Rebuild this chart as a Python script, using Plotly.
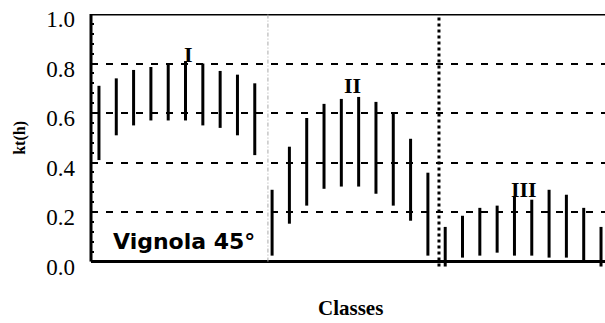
import plotly.graph_objects as go

# ---- data ----
classes = list(range(1, 31))
kt_low = [0.41, 0.51, 0.55, 0.57, 0.57, 0.57, 0.55, 0.54, 0.51, 0.43,
          0.024, 0.153, 0.226, 0.294, 0.303, 0.303, 0.274, 0.226, 0.165, 0.024,
          -0.02, 0.016, 0.024, 0.036, 0.024, 0.024, 0.016, 0.016, 0.0, -0.02]
kt_high = [0.71, 0.74, 0.774, 0.786, 0.80, 0.81, 0.80, 0.77, 0.755, 0.72,
           0.29, 0.464, 0.58, 0.637, 0.657, 0.665, 0.645, 0.60, 0.496, 0.359,
           0.14, 0.185, 0.217, 0.226, 0.262, 0.25, 0.29, 0.27, 0.217, 0.14]
group_labels = ["I", "II", "III"]
group_label_x = [6.2, 15.67, 25.55]
group_label_y = [0.835, 0.71, 0.29]
separators = [10.76, 20.64]
y_ticks = [0.0, 0.2, 0.4, 0.6, 0.8, 1.0]
y_ticktext = ["0.0", "0.2", "0.4", "0.6", "0.8", "1.0"]

# ---- build range segments ----
xs, ys = [], []
for c, lo, hi in zip(classes, kt_low, kt_high):
    xs += [c, c, None]
    ys += [lo, hi, None]

fig = go.Figure()
fig.add_trace(go.Scatter(x=xs, y=ys, mode="lines",
                         line=dict(color="black", width=3),
                         hoverinfo="skip", showlegend=False))

serif = "Liberation Serif, Times New Roman, serif"

fig.update_layout(
    width=605, height=323,
    margin=dict(l=91, r=0, t=14, b=54, autoexpand=False),
    paper_bgcolor="white", plot_bgcolor="white",
    showlegend=False,
    xaxis=dict(range=[0.54, 30.23], showgrid=False, zeroline=False,
               showline=False, showticklabels=False, ticks=""),
    yaxis=dict(range=[-0.03, 1.0], tickvals=y_ticks, ticktext=y_ticktext,
               showgrid=True, gridcolor="black", gridwidth=1.5,
               griddash="7px,8px", zeroline=False, showline=False,
               ticks="inside", ticklen=3, tickwidth=2, tickcolor="black",
               minor=dict(dtick=0.04, tick0=0, ticks="inside", ticklen=3,
                          tickwidth=2, tickcolor="black", showgrid=False),
               tickfont=dict(family=serif, size=23, color="black"),
               ticklabelstandoff=15, ticklabelshift=5,
               ticklabeloverflow="allow"),
)

# axis frame lines
fig.add_shape(type="line", xref="paper", yref="y", x0=0, x1=0, y0=0, y1=1.0,
              line=dict(color="black", width=3), layer="above")
fig.add_shape(type="line", xref="paper", yref="y", x0=0, x1=1, y0=0, y1=0,
              line=dict(color="black", width=3), layer="above")
fig.add_shape(type="line", xref="paper", yref="y", x0=0, x1=1, y0=1.0, y1=1.0,
              line=dict(color="black", width=3), layer="above")

# group separators
fig.add_shape(type="line", xref="x", yref="y", x0=separators[0], x1=separators[0],
              y0=0, y1=1.0, line=dict(color="#aaaaaa", width=1, dash="4px,2px,1px,2px"),
              layer="above")
fig.add_shape(type="line", xref="x", yref="y", x0=separators[1], x1=separators[1],
              y0=-0.02, y1=0.99, line=dict(color="black", width=3, dash="3px,3px"),
              layer="above")

# group labels
for t, gx, gy in zip(group_labels, group_label_x, group_label_y):
    fig.add_annotation(x=gx, y=gy, xref="x", yref="y", text=t, showarrow=False,
                       xanchor="center", yanchor="middle",
                       font=dict(family=serif, size=22, color="black", weight="bold"))

fig.add_annotation(x=(184 - 91) / 514, y=(269.4 - 242) / 255.4, xref="paper", yref="paper",
                   text="Vignola 45°", showarrow=False, xanchor="center", yanchor="middle",
                   font=dict(family="DejaVu Sans", size=22, color="black", weight="bold"))

fig.add_annotation(x=(350 - 91) / 514, y=(269.4 - 308) / 255.4, xref="paper", yref="paper",
                   text="Classes", showarrow=False, xanchor="center", yanchor="middle",
                   font=dict(family=serif, size=21, color="black", weight="bold"))

fig.add_annotation(x=(20 - 91) / 514, y=(269.4 - 138) / 255.4, xref="paper", yref="paper",
                   text="kt(h)", showarrow=False, textangle=-90,
                   xanchor="center", yanchor="middle",
                   font=dict(family=serif, size=16, color="black", weight="bold"))

fig.write_html("out.html", config={"displayModeBar": False},
               post_script="document.body.style.margin='0';")
